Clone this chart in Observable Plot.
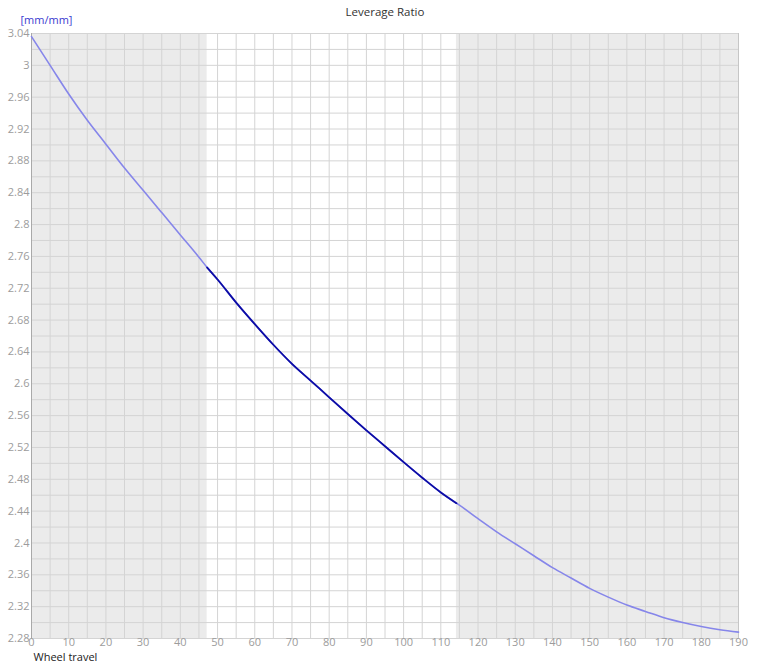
<!DOCTYPE html>
<html><head><meta charset="utf-8">
<script src="https://cdn.jsdelivr.net/npm/d3@7"></script>
<script src="https://cdn.jsdelivr.net/npm/@observablehq/plot@0.6"></script>
<style>body{margin:0;background:#fff;}</style>
</head><body><div id="chart"></div>
<script>
const travel = [0,5,10,15,20,25,30,35,40,45,47.2,50,55,60,65,70,75,80,85,90,95,100,105,110,114.2,115,120,125,130,135,140,145,150,155,160,165,170,175,180,185,190];
const leverage = [3.036,3.000,2.964,2.931,2.901,2.871,2.843,2.815,2.787,2.759,2.746,2.731,2.702,2.675,2.649,2.625,2.604,2.583,2.562,2.5415,2.5215,2.5015,2.482,2.4635,2.450,2.4475,2.4305,2.414,2.399,2.384,2.369,2.356,2.343,2.332,2.322,2.314,2.306,2.300,2.295,2.291,2.288];
const bandStart = [0, 114.2];
const bandEnd = [47.2, 190];
const xTicks = [0,10,20,30,40,50,60,70,80,90,100,110,120,130,140,150,160,170,180,190];
const yTicks = [2.28,2.32,2.36,2.4,2.44,2.48,2.52,2.56,2.6,2.64,2.68,2.72,2.76,2.8,2.84,2.88,2.92,2.96,3,3.04];
const title = "Leverage Ratio";
const yUnit = "[mm/mm]";
const xTitle = "Wheel travel";

const points = travel.map((t, i) => ({travel: t, ratio: leverage[i]}));
const bands = bandStart.map((s, i) => ({x1: s, x2: bandEnd[i]}));
const activePoints = points.filter(d => d.travel >= bandEnd[0] && d.travel <= bandStart[1]);
const xGrid = d3.range(0, 38 + 1).map(i => i * 5);
const yGrid = d3.range(0, 38 + 1).map(i => 2.28 + i * 0.02);
const fmt = d => String(+d.toFixed(2));

const chart = Plot.plot({
  width: 768, height: 666,
  marginLeft: 31, marginRight: 30, marginTop: 33, marginBottom: 28,
  style: {fontFamily: "'Open Sans', 'Noto Sans', sans-serif", fontSize: "11px", background: "#fff"},
  x: {domain: [0, 190]},
  y: {domain: [2.28, 3.04]},
  marks: [
    Plot.rect(bands, {x1: "x1", x2: "x2", fill: "#ebebeb"}),
    Plot.ruleX(xGrid, {stroke: "#d4d4d4", strokeWidth: 1}),
    Plot.ruleY(yGrid, {stroke: "#d4d4d4", strokeWidth: 1}),
    Plot.ruleX([0], {stroke: "#a9a9a9"}),
    Plot.ruleX([190], {stroke: "#c6c6c6"}),
    Plot.axisX(xTicks, {tickSize: 0, tickPadding: 0, color: "#9c9c9c", label: null, fontSize: 11, tickFormat: fmt}),
    Plot.axisY(yTicks, {tickSize: 0, tickPadding: 2, color: "#9c9c9c", label: null, fontSize: 11, tickFormat: fmt}),
    Plot.line(points, {x: "travel", y: "ratio", stroke: "#8686ea", strokeWidth: 1.6, curve: "monotone-x"}),
    Plot.line(activePoints, {x: "travel", y: "ratio", stroke: "#0c0ca6", strokeWidth: 1.8, curve: "monotone-x"}),
    Plot.text([title], {text: d => d, frameAnchor: "top", dy: -26, fill: "#333", fontSize: 11.5}),
    Plot.text([yUnit], {text: d => d, frameAnchor: "top-left", dx: -11, dy: -17, textAnchor: "start", fill: "#3a3ad0", fontSize: 11}),
    Plot.text([xTitle], {text: d => d, frameAnchor: "bottom-left", dx: 2, dy: 22, textAnchor: "start", fill: "#222", fontSize: 11})
  ]
});
document.getElementById("chart").appendChild(chart);
</script>
</body></html>
